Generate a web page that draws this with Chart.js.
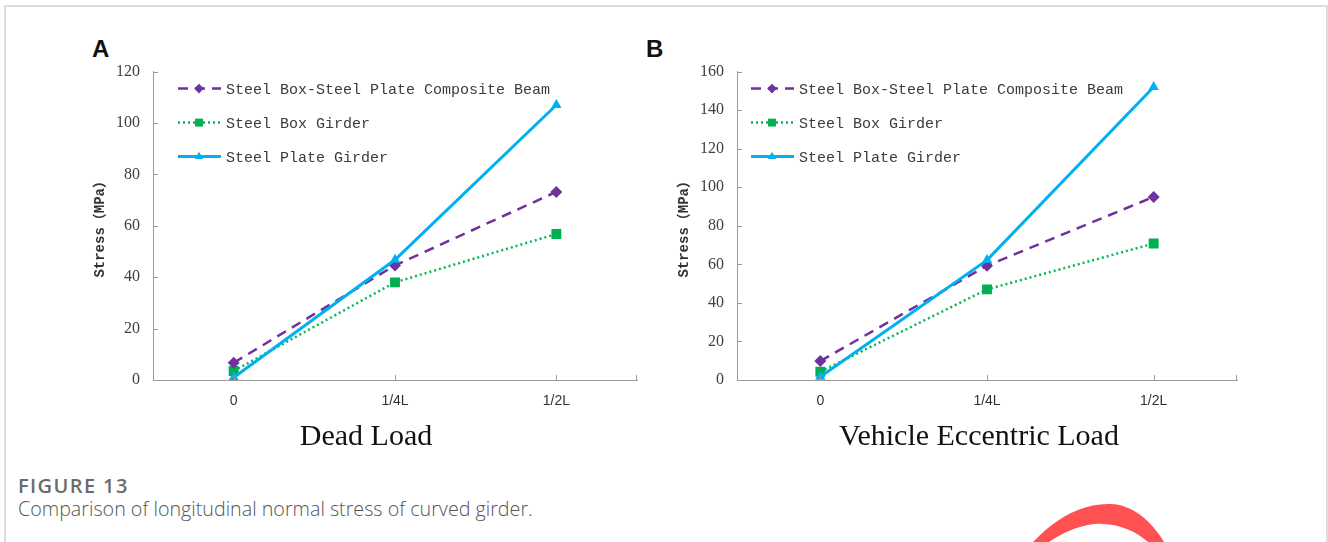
<!DOCTYPE html>
<html>
<head>
<meta charset="utf-8">
<script src="https://cdn.jsdelivr.net/npm/chart.js@4.4.0/dist/chart.umd.min.js"></script>
<style>
  html, body { margin: 0; padding: 0; background: #fff; }
  body { width: 1328px; height: 542px; position: relative; overflow: hidden; }
  .frame { position: absolute; left: 4px; top: 5px; width: 1320px; height: 600px;
           border: 2px solid #dcdcdc; }
  canvas { position: absolute; }
  .panel { position: absolute; font: bold 24px "Liberation Sans", Arial, sans-serif; color: #111; }
  .ctitle { position: absolute; width: 400px; text-align: center; top: 417px;
            font: 30px "Liberation Serif", "Times New Roman", serif; color: #111; line-height: 36px; }
  .fig { position: absolute; left: 18px; top: 472px; font: 600 20px "Open Sans", sans-serif;
         color: #6b6b6b; letter-spacing: 1.4px; }
  .cap { position: absolute; left: 18px; top: 495px; font: 300 19.7px "Open Sans", sans-serif; color: #555; }
  svg { position: absolute; left: 0; top: 0; }
</style>
</head>
<body>
<div class="frame"></div>
<div class="panel" style="left:92px;top:35px">A</div>
<div class="panel" style="left:646px;top:35px">B</div>
<canvas id="chartA" width="580" height="371" style="left:80px;top:49px"></canvas>
<canvas id="chartB" width="596" height="371" style="left:664px;top:49px"></canvas>
<div class="ctitle" style="left:166px">Dead Load</div>
<div class="ctitle" style="left:779px">Vehicle Eccentric Load</div>
<div class="fig">FIGURE 13</div>
<div class="cap">Comparison of longitudinal normal stress of curved girder.</div>
<svg width="1328" height="542">
  <path d="M1033,542 C1058,516 1084,503 1111,504 C1134,505 1152,522 1164,542 L1148,542 C1136,531 1116,522 1094,524 C1077,526 1062,533 1049,542 Z" fill="#ff5052"/>
</svg>
<script>
// categories along the girder
var positions = ["0", "1/4L", "1/2L"];
var seriesNames = ["Steel Box-Steel Plate Composite Beam", "Steel Box Girder", "Steel Plate Girder"];

// (A) dead load, MPa
var deadComposite = [6.7, 44.6, 73.2];
var deadBox = [3.5, 38, 56.8];
var deadPlate = [1, 46.8, 107];

// (B) vehicle eccentric load, MPa
var eccComposite = [9.8, 59.3, 95];
var eccBox = [4.3, 47, 70.8];
var eccPlate = [1.7, 62.2, 152];

var axisColor = "#9a9a9a";

function makeDatasets(comp, box, plate) {
    return [
        {
            label: seriesNames[0], data: comp, order: 1,
            borderColor: "#7030A0", backgroundColor: "#7030A0",
            borderWidth: 2.5, borderDash: [10, 7],
            pointStyle: "rectRot", pointRadius: 6, pointBackgroundColor: "#7030A0", pointBorderWidth: 0,
        },
        {
            label: seriesNames[1], data: box, order: 2,
            borderColor: "#00B955", backgroundColor: "#00B050",
            borderWidth: 2.5, borderDash: [2, 3],
            pointStyle: "rect", pointRadius: 7, pointBackgroundColor: "#00B050", pointBorderWidth: 0,
        },
        {
            label: seriesNames[2], data: plate, order: 0,
            borderColor: "#00B0F0", backgroundColor: "#00B0F0",
            borderWidth: 3,
            pointStyle: "triangle", pointRadius: 6, pointBackgroundColor: "#00B0F0", pointBorderWidth: 0,
        },
    ];
}

// small tick marks pointing into the plot, like the original
var innerTicks = {
    id: "innerTicks",
    afterDraw: function (chart) {
        var ctx = chart.ctx, x = chart.scales.x, y = chart.scales.y;
        ctx.save();
        ctx.strokeStyle = axisColor;
        ctx.lineWidth = 1;
        ctx.beginPath();
        y.ticks.forEach(function (t, i) {
            var py = Math.round(y.getPixelForTick(i)) + 0.5;
            ctx.moveTo(y.right, py);
            ctx.lineTo(y.right + 5, py);
        });
        x.ticks.forEach(function (t, i) {
            var px = Math.round(x.getPixelForTick(i)) + 0.5;
            ctx.moveTo(px, x.top);
            ctx.lineTo(px, x.top - 5);
        });
        ctx.moveTo(Math.round(x.right) - 0.5, x.top);
        ctx.lineTo(Math.round(x.right) - 0.5, x.top - 5);
        ctx.stroke();
        ctx.restore();
    }
};

// legend drawn inside the plot area, line + marker + text
var innerLegend = {
    id: "innerLegend",
    afterDraw: function (chart, args, opts) {
        var ctx = chart.ctx, area = chart.chartArea;
        chart.data.datasets.forEach(function (ds, i) {
            var y = area.top + opts.top + i * opts.gap;
            var x0 = area.left + opts.left;
            ctx.save();
            ctx.strokeStyle = ds.borderColor;
            ctx.lineWidth = ds.borderWidth;
            ctx.setLineDash(ds.borderDash || []);
            ctx.beginPath();
            ctx.moveTo(x0, y);
            ctx.lineTo(x0 + 43, y);
            ctx.stroke();
            ctx.setLineDash([]);
            ctx.fillStyle = ds.pointBackgroundColor;
            Chart.helpers.drawPoint(ctx, {
                pointStyle: ds.pointStyle, radius: ds.pointRadius * 0.8, borderWidth: 0, rotation: 0
            }, x0 + 21, y);
            ctx.fillStyle = "#3c3c3c";
            ctx.font = '15px "Liberation Mono", monospace';
            ctx.textBaseline = "middle";
            ctx.fillText(ds.label, x0 + 48, y + 1);
            ctx.restore();
        });
    }
};

function makeChart(id, datasets, yMax, legendLeft) {
    return new Chart(document.getElementById(id).getContext("2d"), {
        type: "line",
        data: { labels: positions, datasets: datasets },
        plugins: [innerTicks, innerLegend],
        options: {
            responsive: false,
            animation: false,
            layout: { padding: { top: 0, right: 23, bottom: 2, left: 0 } },
            plugins: {
                legend: { display: false },
                tooltip: { enabled: false },
                innerLegend: { left: legendLeft, top: 17, gap: 34 },
            },
            scales: {
                x: {
                    offset: true,
                    grid: { display: false, drawTicks: false },
                    border: { display: true, color: axisColor, width: 1 },
                    ticks: { padding: 13, color: "#333", font: { family: "Liberation Sans", size: 14 } },
                    afterFit: function (s) { s.height = 38; },
                },
                y: {
                    min: 0, max: yMax,
                    grid: { display: false, drawTicks: false },
                    border: { display: true, color: axisColor, width: 1 },
                    ticks: { stepSize: 20, padding: 13, color: "#404040",
                             font: { family: "Liberation Serif", size: 16 } },
                    title: {
                        display: true, text: "Stress（MPa）", color: "#333",
                        padding: { top: 12, bottom: 0 },
                        font: { family: "'Liberation Mono', 'Noto Sans CJK SC'", size: 14, weight: "bold" },
                    },
                    afterFit: function (s) { s.width = 73; },
                },
            },
        },
    });
}

makeChart("chartA", makeDatasets(deadComposite, deadBox, deadPlate), 120, 25);
makeChart("chartB", makeDatasets(eccComposite, eccBox, eccPlate), 160, 14);
</script>
</body>
</html>
